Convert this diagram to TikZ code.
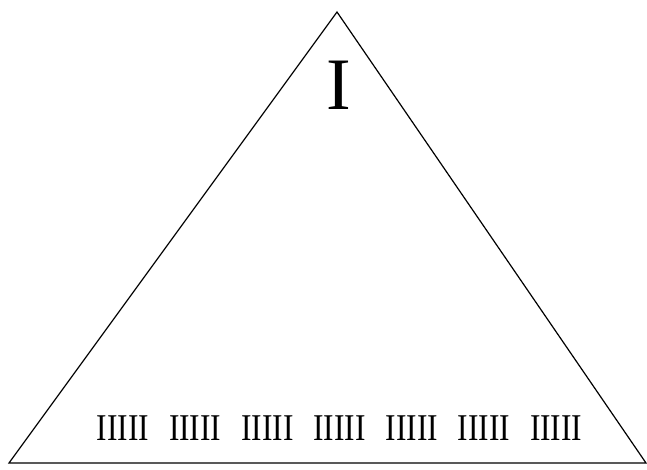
\documentclass[tikz,border=0pt]{standalone}
\usepackage{fontspec}
\setmainfont{Liberation Serif}
\begin{document}
\begin{tikzpicture}[x=1pt,y=-1pt,
  edge/.style={line width=1.2pt,line join=miter},
  big/.style={inner sep=0pt,anchor=base,font=\fontsize{74}{74}\selectfont},
  tally/.style={inner sep=0pt,anchor=base,font=\fontsize{37.8}{38}\selectfont}]
\useasboundingbox (0,0) rectangle (647,470);
\coordinate (apex) at (337,12);
\coordinate (bl) at (9,463);
\coordinate (br) at (646,463);
\draw[edge] (apex) -- (bl) -- (br) -- cycle;
\node[big] (one) at (338.5,110) {I};
\foreach \i in {0,...,6}{
  \node[tally] (g\i) at ({123+72.2*\i},440) {\scalebox{0.83}[1]{IIIII}};
}
\end{tikzpicture}
\end{document}
